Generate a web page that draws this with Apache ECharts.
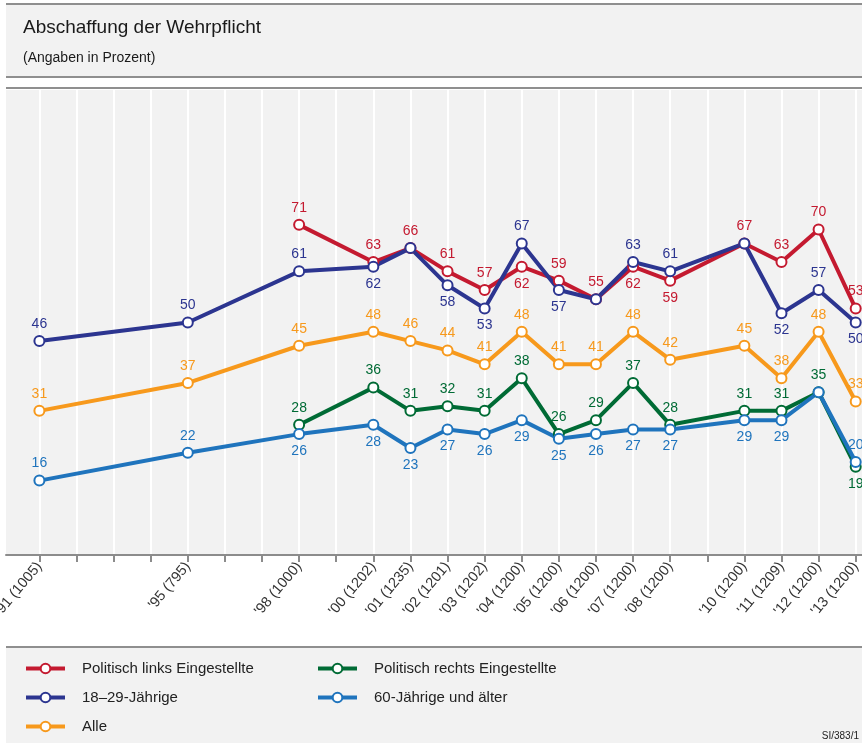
<!DOCTYPE html>
<html>
<head>
<meta charset="utf-8">
<script src="https://cdn.jsdelivr.net/npm/echarts@6/dist/echarts.min.js"></script>
<style>
  html, body { margin: 0; padding: 0; background: #fff; }
  #chart { width: 862px; height: 743px; }
</style>
</head>
<body>
<div id="chart"></div>
<script>
// survey years and sample sizes (n)
const years = [1991, 1995, 1998, 2000, 2001, 2002, 2003, 2004, 2005, 2006, 2007, 2008, 2010, 2011, 2012, 2013]
const sampleSizes = [1005, 795, 1000, 1202, 1235, 1201, 1202, 1200, 1200, 1200, 1200, 1200, 1200, 1209, 1200, 1200]
const tickYears = [1991, 1992, 1993, 1994, 1995, 1996, 1997, 1998, 1999, 2000, 2001, 2002, 2003, 2004, 2005, 2006, 2007, 2008, 2009, 2010, 2011, 2012, 2013]

const links = [null, null, 71, 63, 66, 61, 57, 62, 59, 55, 62, 59, 67, 63, 70, 53]
const jung = [46, 50, 61, 62, 66, 58, 53, 67, 57, 55, 63, 61, 67, 52, 57, 50]
const alle = [31, 37, 45, 48, 46, 44, 41, 48, 41, 41, 48, 42, 45, 38, 48, 33]
const rechts = [null, null, 28, 36, 31, 32, 31, 38, 26, 29, 37, 28, 31, 31, 35, 19]
const alt = [16, 22, 26, 28, 23, 27, 26, 29, 25, 26, 27, 27, 29, 29, 35, 20]

// label placement per point: t = above, b = below, - = none
const linksPos = ['-', '-', 't', 't', 't', 't', 't', 'b', 't', 't', 'b', 'b', 't', 't', 't', 't']
const jungPos = ['t', 't', 't', 'b', '-', 'b', 'b', 't', 'b', '-', 't', 't', '-', 'b', 't', 'b']
const allePos = ['t', 't', 't', 't', 't', 't', 't', 't', 't', 't', 't', 't', 't', 't', 't', 't']
const rechtsPos = ['-', '-', 't', 't', 't', 't', 't', 't', 't', 't', 't', 't', 't', 't', 't', 'b']
const altPos = ['t', 't', 'b', 'b', 'b', 'b', 'b', 'b', 'b', 'b', 'b', 'b', 'b', 'b', '-', 't']

const names = ['Politisch links Eingestellte', '18\u201329-J\u00e4hrige', 'Alle', 'Politisch rechts Eingestellte', '60-J\u00e4hrige und \u00e4lter']
const colors = ['#c41a30', '#2c3590', '#f7991c', '#006b35', '#1f74bd']

const font = 'Liberation Sans, Arial, sans-serif'
const myChart = echarts.init(document.getElementById('chart'))

function buildData(values, pos) {
  const out = []
  values.forEach(function (v, i) {
    if (v === null) return
    const item = { value: [years[i], v] }
    if (pos[i] === '-') item.label = { show: false }
    else if (pos[i] === 'b') item.label = { position: 'bottom' }
    out.push(item)
  })
  return out
}

function makeSeries(name, values, pos, color) {
  return {
    name: name,
    type: 'line',
    data: buildData(values, pos),
    symbol: 'emptyCircle',
    symbolSize: 10,
    lineStyle: { width: 4, color: color },
    itemStyle: { color: color, borderWidth: 3 },
    label: {
      show: true,
      position: 'top',
      distance: 4,
      color: color,
      fontSize: 14,
      fontFamily: font,
      formatter: function (p) { return p.value[1] }
    },
    emphasis: { disabled: true }
  }
}

const labelMap = {}
years.forEach(function (y, i) {
  labelMap[y] = "'" + String(y).slice(2) + ' (' + sampleSizes[i] + ')'
})

const legendBase = {
  orient: 'vertical',
  top: 661,
  padding: 0,
  itemWidth: 39,
  itemHeight: 12,
  itemGap: 14,
  lineStyle: { width: 4 },
  textStyle: { fontSize: 15, color: '#222', fontFamily: font, padding: [0, 0, 0, 12] }
}

const option = {
  animation: false,
  backgroundColor: '#fff',
  graphic: [
    { type: 'rect', shape: { x: 6, y: 4, width: 856, height: 73 }, style: { fill: '#f2f2f2' }, z: -10 },
    { type: 'rect', shape: { x: 6, y: 3, width: 856, height: 2 }, style: { fill: '#8f8f8f' } },
    { type: 'rect', shape: { x: 6, y: 76, width: 856, height: 2 }, style: { fill: '#8f8f8f' } },
    { type: 'rect', shape: { x: 6, y: 87, width: 856, height: 2 }, style: { fill: '#8f8f8f' } },
    { type: 'rect', shape: { x: 6, y: 646, width: 856, height: 97 }, style: { fill: '#f2f2f2' }, z: -10 },
    { type: 'rect', shape: { x: 6, y: 646, width: 856, height: 2 }, style: { fill: '#8f8f8f' } },
    { type: 'text', left: 23, top: 18, style: { text: 'Abschaffung der Wehrpflicht', fill: '#1a1a1a', font: '19px ' + font } },
    { type: 'text', left: 23, top: 51, style: { text: '(Angaben in Prozent)', fill: '#1a1a1a', font: '14px ' + font } },
    { type: 'text', right: 3, top: 731, style: { text: 'SI/383/1', fill: '#222', font: '10px ' + font } }
  ],
  legend: [
    Object.assign({}, legendBase, { left: 24, data: [names[0], names[1], names[2]] }),
    Object.assign({}, legendBase, { left: 316, data: [names[3], names[4]] })
  ],
  grid: {
    left: 6,
    right: 0,
    top: 90,
    bottom: 188,
    outerBoundsMode: 'none',
    show: true,
    backgroundColor: '#f2f2f2',
    borderWidth: 0
  },
  xAxis: {
    type: 'value',
    min: 1990.1,
    max: 2013.17,
    axisLine: { show: true, lineStyle: { color: '#8c8c8c', width: 2 } },
    axisTick: { show: true, length: 7, customValues: tickYears, lineStyle: { color: '#8c8c8c', width: 2 } },
    splitLine: { show: true, lineStyle: { color: '#ffffff', width: 2 } },
    axisLabel: {
      rotate: 50,
      margin: 9,
      fontSize: 14.5,
      color: '#333',
      fontFamily: font,
      customValues: years,
      formatter: function (v) { return labelMap[v] || '' }
    }
  },
  yAxis: {
    type: 'value',
    min: 0,
    max: 100,
    show: false,
    splitLine: { show: false }
  },
  series: [
    makeSeries(names[0], links, linksPos, colors[0]),
    makeSeries(names[1], jung, jungPos, colors[1]),
    makeSeries(names[2], alle, allePos, colors[2]),
    makeSeries(names[3], rechts, rechtsPos, colors[3]),
    makeSeries(names[4], alt, altPos, colors[4])
  ]
}

myChart.setOption(option)
window.addEventListener('resize', function () {
  myChart.resize()
})
</script>
</body>
</html>
